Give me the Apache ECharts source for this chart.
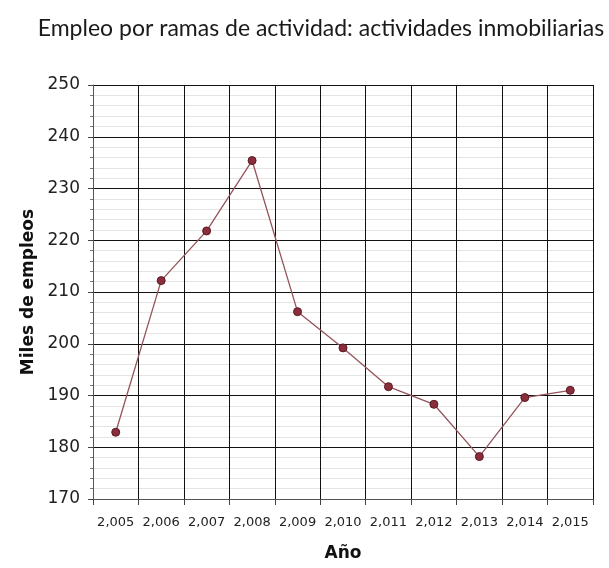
<!DOCTYPE html>
<html>
<head>
<meta charset="utf-8">
<script src="https://cdn.jsdelivr.net/npm/echarts@6/dist/echarts.min.js"></script>
<style>
  html, body { margin: 0; padding: 0; background: #fff; }
  #chart { width: 609px; height: 568px; }
</style>
</head>
<body>
<div id="chart"></div>
<script>
// Años (etiquetas del eje horizontal)
const years = ['2,005', '2,006', '2,007', '2,008', '2,009', '2,010', '2,011', '2,012', '2,013', '2,014', '2,015'];
// Miles de empleos en actividades inmobiliarias
const employment = [182.9, 212.2, 221.8, 235.4, 206.2, 199.2, 191.7, 188.3, 178.2, 189.6, 191.0];
// Escala del eje vertical
const yMin = 170;
const yMax = 250;
const yStep = 10;

const chart = echarts.init(document.getElementById('chart'), null, { renderer: 'canvas' });

chart.setOption({
  animation: false,
  backgroundColor: '#ffffff',
  title: {
    text: 'Empleo por ramas de actividad: actividades inmobiliarias',
    left: 316,
    top: 12,
    textAlign: 'center',
    textStyle: { fontFamily: 'Lato', fontSize: 23, fontWeight: 'normal', color: '#1a1a1a' }
  },
  grid: { left: 93, right: 16, top: 85, bottom: 69, containLabel: false },
  xAxis: {
    type: 'category',
    data: years,
    boundaryGap: true,
    name: 'Año',
    nameLocation: 'middle',
    nameGap: 46,
    nameTextStyle: { fontFamily: 'DejaVu Sans', fontSize: 17, fontWeight: 'bold', color: '#111' },
    axisLine: { show: true, lineStyle: { color: '#555', width: 1 } },
    axisTick: { show: true, interval: 0, length: 6, lineStyle: { color: '#444' } },
    axisLabel: { interval: 0, fontFamily: 'DejaVu Sans', fontSize: 13, color: '#222', margin: 17 },
    splitLine: { show: true, interval: 0, lineStyle: { color: '#111', width: 1 } }
  },
  yAxis: {
    type: 'value',
    min: yMin,
    max: yMax,
    interval: yStep,
    name: 'Miles de empleos',
    nameLocation: 'middle',
    nameRotate: 90,
    nameGap: 56,
    nameTextStyle: { fontFamily: 'DejaVu Sans', fontSize: 17, fontWeight: 'bold', color: '#111' },
    axisLine: { show: true, lineStyle: { color: '#555', width: 1 } },
    axisTick: { show: true, length: 5, lineStyle: { color: '#444' } },
    minorTick: { show: true, splitNumber: 5, length: 3, lineStyle: { color: '#777' } },
    axisLabel: { fontFamily: 'DejaVu Sans', fontSize: 17, color: '#222', margin: 13 },
    splitLine: { show: true, lineStyle: { color: '#111', width: 1 } },
    minorSplitLine: { show: true, lineStyle: { color: '#e4e4e4', width: 1 } }
  },
  series: [{
    type: 'line',
    data: employment,
    symbol: 'circle',
    symbolSize: 8,
    lineStyle: { color: '#94545b', width: 1.3 },
    itemStyle: { color: '#8a2e3c', borderColor: '#5c1822', borderWidth: 1 }
  }]
});
</script>
</body>
</html>
